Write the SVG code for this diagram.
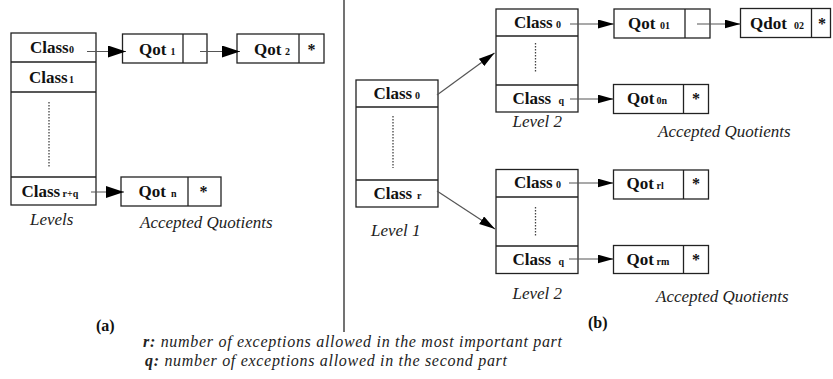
<svg xmlns="http://www.w3.org/2000/svg" width="833" height="379" viewBox="0 0 833 379">
<style>
.box{fill:#fff;stroke:#222;stroke-width:1.3}
.sep{stroke:#222;stroke-width:1.3;fill:none}
.lbl{font-weight:bold;font-size:17px;fill:#111}
.sub{font-size:10px}
.star{font-weight:bold;font-size:16px;fill:#111;text-anchor:middle}
.it{font-style:italic;font-size:17px;fill:#222}
.note{font-style:italic;font-size:16px;fill:#222}
.cap{font-weight:bold;font-size:16px;fill:#111}
.dot{stroke:#444;stroke-width:1.3;stroke-dasharray:1.5 1.5;fill:none}
.conn{stroke:#555;stroke-width:1.2;fill:none;marker-end:url(#ah)}
.connL{stroke:#555;stroke-width:1.2;fill:none;marker-end:url(#ahL)}
</style>
<defs>
<marker id="ah" markerUnits="userSpaceOnUse" markerWidth="17" markerHeight="10" refX="16" refY="4.5" orient="auto">
<path d="M0,0 L16,4.5 L0,9 Z" fill="#000"/>
</marker>
<marker id="ahL" markerUnits="userSpaceOnUse" markerWidth="19" markerHeight="12" refX="18" refY="6" orient="auto">
<path d="M0,0 L18,6 L0,12 Z" fill="#000"/>
</marker>
</defs>
<rect width="833" height="379" fill="#fff"/>
<line x1="344" y1="0" x2="344" y2="332" stroke="#444" stroke-width="1.5"/>
<g font-family="Liberation Serif, serif">
<!-- (a) -->
<g id="levels-a">
<rect class="box" x="11" y="33" width="85" height="172"/>
<path class="sep" d="M11,62 H96 M11,92 H96 M11,177 H96"/>
<line class="dot" x1="49" y1="102" x2="49" y2="168"/>
<text class="lbl" x="30" y="53">Class<tspan class="sub" x="69">0</tspan></text>
<text class="lbl" x="29" y="83">Class<tspan class="sub" x="69">1</tspan></text>
<text class="lbl" x="21.5" y="197">Class<tspan class="sub" x="62.5">r+q</tspan></text>
</g>
<g id="qot1">
<rect class="box" x="122.5" y="34" width="84.5" height="29"/>
<line class="sep" x1="183" y1="34" x2="183" y2="63"/>
<text class="lbl" x="139" y="55">Qot<tspan class="sub" x="170.5">1</tspan></text>
</g>
<g id="qot2">
<rect class="box" x="237" y="34" width="87" height="29"/>
<line class="sep" x1="299" y1="34" x2="299" y2="63"/>
<text class="lbl" x="254" y="55">Qot<tspan class="sub" x="285">2</tspan></text>
<text class="star" x="311.5" y="55">*</text>
</g>
<g id="qotn">
<rect class="box" x="121" y="177" width="100" height="29"/>
<line class="sep" x1="188" y1="177" x2="188" y2="206"/>
<text class="lbl" x="138.5" y="197">Qot<tspan class="sub" x="171">n</tspan></text>
<text class="star" x="203.5" y="197">*</text>
</g>
<text class="it" x="30" y="225">Levels</text>
<text class="it" x="140" y="228">Accepted Quotients</text>

<!-- (b) -->
<g id="level1">
<rect class="box" x="356" y="80" width="82" height="127"/>
<path class="sep" d="M356,107 H438 M356,180 H438"/>
<line class="dot" x1="393" y1="116" x2="393" y2="168"/>
<text class="lbl" x="373.5" y="98.5">Class<tspan class="sub" x="415">0</tspan></text>
<text class="lbl" x="373.5" y="198.5">Class<tspan class="sub" x="417">r</tspan></text>
</g>
<g id="level2-top">
<rect class="box" x="496" y="9" width="82" height="103"/>
<path class="sep" d="M496,36 H578 M496,85 H578"/>
<line class="dot" x1="535.5" y1="43" x2="535.5" y2="72"/>
<text class="lbl" x="514" y="27.5">Class<tspan class="sub" x="556">0</tspan></text>
<text class="lbl" x="512.5" y="103.5">Class<tspan class="sub" x="558.5">q</tspan></text>
</g>
<g id="qot01">
<rect class="box" x="614" y="9" width="96" height="29"/>
<line class="sep" x1="685" y1="9" x2="685" y2="38"/>
<text class="lbl" x="628" y="28.5">Qot<tspan class="sub" x="660">01</tspan></text>
</g>
<g id="qdot02">
<rect class="box" x="740.5" y="8.5" width="90" height="29"/>
<line class="sep" x1="811.5" y1="8.5" x2="811.5" y2="37.5"/>
<text class="lbl" x="750" y="28.5">Qdot<tspan class="sub" x="794">02</tspan></text>
<text class="star" x="822" y="28.5">*</text>
</g>
<g id="qot0n">
<rect class="box" x="613.5" y="84.5" width="95" height="29"/>
<line class="sep" x1="683.5" y1="84.5" x2="683.5" y2="113.5"/>
<text class="lbl" x="627" y="103.5">Qot<tspan class="sub" x="656.5">0n</tspan></text>
<text class="star" x="696" y="103.5">*</text>
</g>
<text class="it" x="512.5" y="127">Level 2</text>
<text class="it" x="658" y="137">Accepted Quotients</text>

<g id="level2-bottom">
<rect class="box" x="496" y="169.5" width="82" height="104"/>
<path class="sep" d="M496,197 H578 M496,246 H578"/>
<line class="dot" x1="535.5" y1="207" x2="535.5" y2="237"/>
<text class="lbl" x="514" y="187.5">Class<tspan class="sub" x="556">0</tspan></text>
<text class="lbl" x="512.5" y="265">Class<tspan class="sub" x="558.5">q</tspan></text>
</g>
<g id="qotrl">
<rect class="box" x="613.5" y="170" width="95" height="29"/>
<line class="sep" x1="683.5" y1="170" x2="683.5" y2="199"/>
<text class="lbl" x="626.5" y="188.5">Qot<tspan class="sub" x="656.5">rl</tspan></text>
<text class="star" x="696" y="188.5">*</text>
</g>
<g id="qotrm">
<rect class="box" x="613.5" y="245.5" width="95" height="28"/>
<line class="sep" x1="683.5" y1="245.5" x2="683.5" y2="273.5"/>
<text class="lbl" x="626.5" y="265">Qot<tspan class="sub" x="656.5">rm</tspan></text>
<text class="star" x="696" y="265">*</text>
</g>
<text class="it" x="371" y="236">Level 1</text>
<text class="it" x="512.5" y="299">Level 2</text>
<text class="it" x="656" y="302">Accepted Quotients</text>

<g id="connectors">
<line class="connL" x1="87" y1="51.5" x2="126" y2="51.5"/>
<line class="connL" x1="200" y1="51.5" x2="240" y2="51.5"/>
<line class="connL" x1="91" y1="192" x2="124" y2="192"/>
<line class="conn" x1="437" y1="95" x2="494.5" y2="53"/>
<line class="conn" x1="437" y1="191" x2="495" y2="229"/>
<line class="conn" x1="570" y1="24" x2="614" y2="24"/>
<line class="conn" x1="697" y1="24" x2="740.5" y2="24"/>
<line class="conn" x1="570" y1="99" x2="613.5" y2="99"/>
<line class="conn" x1="569" y1="183" x2="613.5" y2="183"/>
<line class="conn" x1="569" y1="259" x2="613.5" y2="259"/>
</g>

<text class="cap" x="96" y="331">(a)</text>
<text class="cap" x="588" y="328">(b)</text>
<text class="note" x="143" y="347" textLength="419" lengthAdjust="spacing"><tspan font-weight="bold">r:</tspan> number of exceptions allowed in the most important part</text>
<text class="note" x="145" y="366" textLength="362" lengthAdjust="spacing"><tspan font-weight="bold">q:</tspan> number of exceptions allowed in the second part</text>
</g>
</svg>
